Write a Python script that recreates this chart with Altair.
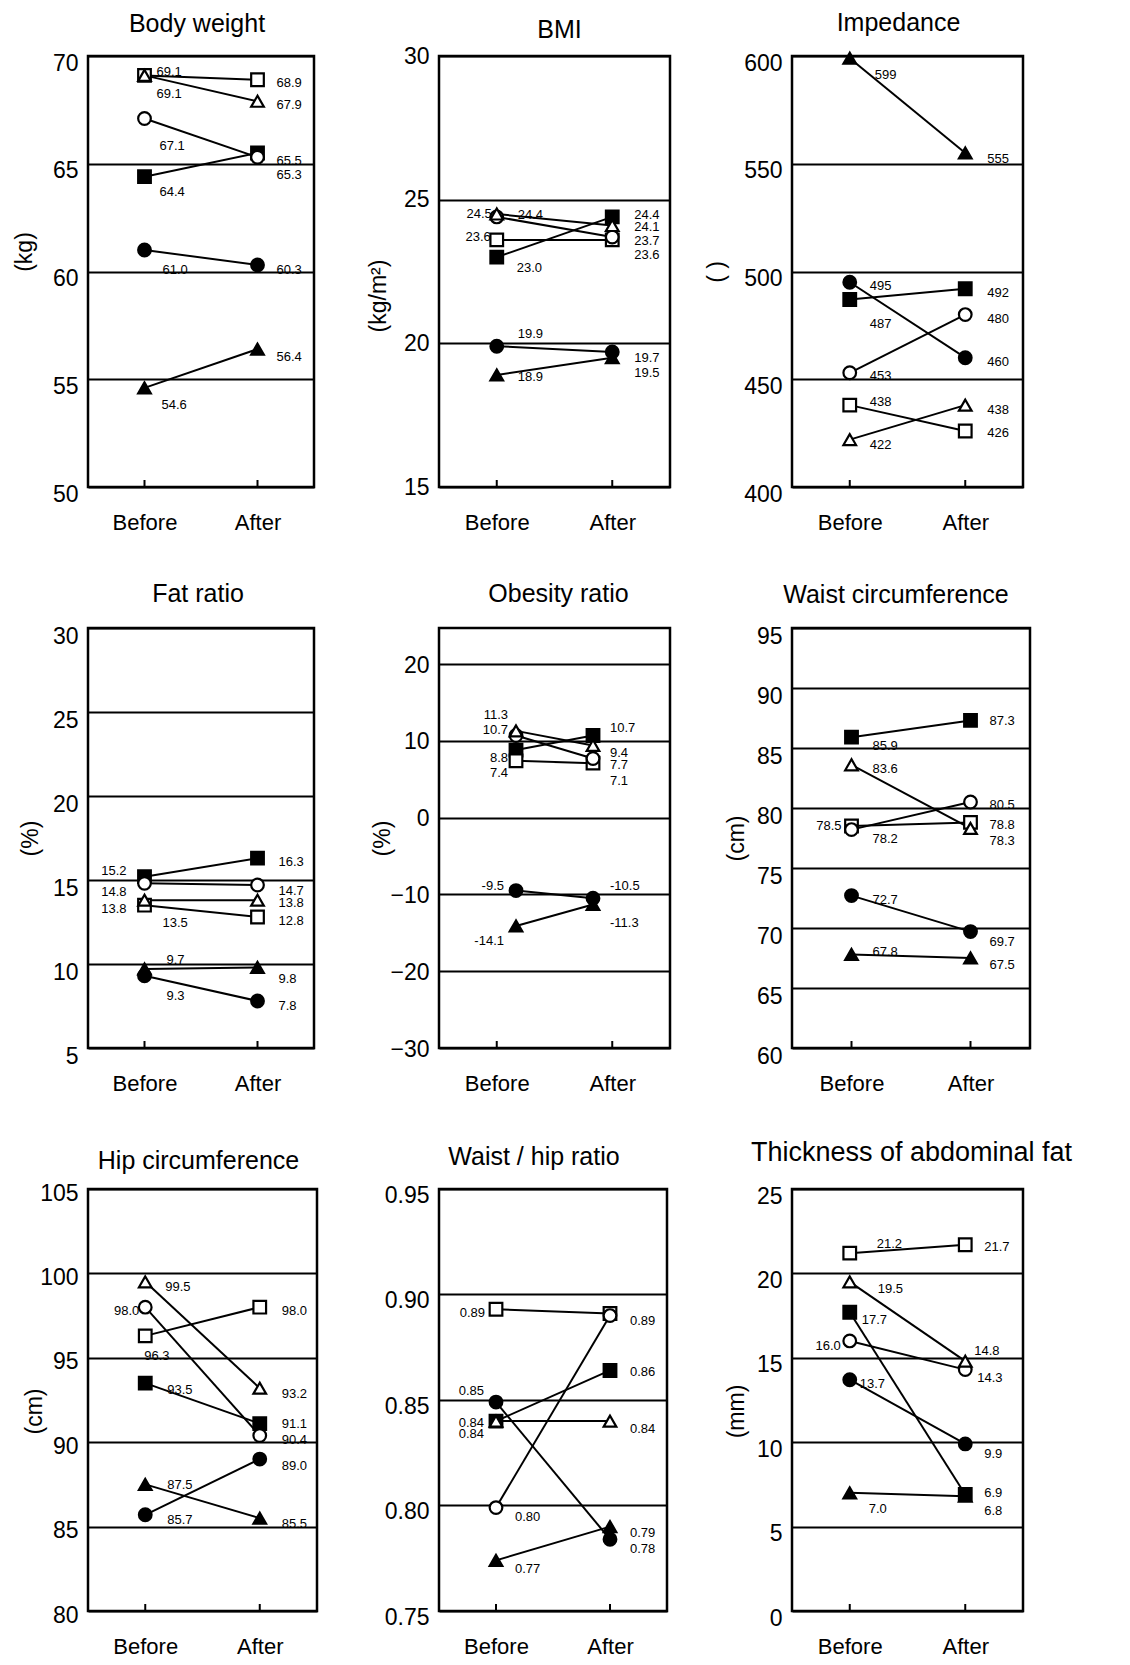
import altair as alt
import pandas as pd

FONT = "Liberation Sans"

PHASES = ["Before", "After"]
# A: filled square, B: open square, C: filled circle, D: open circle, E: filled triangle, F: open triangle
SUBJECTS = ["A", "B", "C", "D", "E", "F"]
SHAPES = ["square", "square", "circle", "circle", "triangle-up", "triangle-up"]
FILLS = ["black", "white", "black", "white", "black", "white"]
MARK_SIZES = [160, 160, 170, 170, 215, 215]

TITLES = ["Body weight", "BMI", "Impedance", "Fat ratio", "Obesity ratio",
          "Waist circumference", "Hip circumference", "Waist / hip ratio",
          "Thickness of abdominal fat"]
UNITS = ["(kg)", "(kg/m²)", "(   )", "(%)", "(%)", "(cm)", "(cm)", "", "(mm)"]

BODY_WEIGHT_BEFORE = [64.4, 69.1, 61.0, 67.1, 54.6, 69.1]
BODY_WEIGHT_AFTER = [65.5, 68.9, 60.3, 65.3, 56.4, 67.9]
BMI_BEFORE = [23.0, 23.6, 19.9, 24.4, 18.9, 24.5]
BMI_AFTER = [24.4, 23.6, 19.7, 23.7, 19.5, 24.1]
IMPEDANCE_BEFORE = [487, 438, 495, 453, 599, 422]
IMPEDANCE_AFTER = [492, 426, 460, 480, 555, 438]
FAT_RATIO_BEFORE = [15.2, 13.5, 9.3, 14.8, 9.7, 13.8]
FAT_RATIO_AFTER = [16.3, 12.8, 7.8, 14.7, 9.8, 13.8]
OBESITY_BEFORE = [8.8, 7.4, -9.5, 10.7, -14.1, 11.3]
OBESITY_AFTER = [10.7, 7.1, -10.5, 7.7, -11.3, 9.4]
WAIST_BEFORE = [85.9, 78.5, 72.7, 78.2, 67.8, 83.6]
WAIST_AFTER = [87.3, 78.8, 69.7, 80.5, 67.5, 78.3]
HIP_BEFORE = [93.5, 96.3, 85.7, 98.0, 87.5, 99.5]
HIP_AFTER = [91.1, 98.0, 89.0, 90.4, 85.5, 93.2]
WHR_BEFORE = [0.840, 0.893, 0.849, 0.799, 0.774, 0.840]
WHR_AFTER = [0.864, 0.891, 0.784, 0.890, 0.790, 0.840]
ABD_FAT_BEFORE = [17.7, 21.2, 13.7, 16.0, 7.0, 19.5]
ABD_FAT_AFTER = [6.9, 21.7, 9.9, 14.3, 6.8, 14.8]

SERIES = [
    (BODY_WEIGHT_BEFORE, BODY_WEIGHT_AFTER),
    (BMI_BEFORE, BMI_AFTER),
    (IMPEDANCE_BEFORE, IMPEDANCE_AFTER),
    (FAT_RATIO_BEFORE, FAT_RATIO_AFTER),
    (OBESITY_BEFORE, OBESITY_AFTER),
    (WAIST_BEFORE, WAIST_AFTER),
    (HIP_BEFORE, HIP_AFTER),
    (WHR_BEFORE, WHR_AFTER),
    (ABD_FAT_BEFORE, ABD_FAT_AFTER),
]

Y_DOMAINS = [[50, 70], [15, 30], [400, 600], [5, 30], [-30, 24.7],
             [60, 95], [80, 105], [0.75, 0.95], [0, 25]]
Y_TICKS = [
    [50, 55, 60, 65, 70],
    [15, 20, 25, 30],
    [400, 450, 500, 550, 600],
    [5, 10, 15, 20, 25, 30],
    [-30, -20, -10, 0, 10, 20],
    [60, 65, 70, 75, 80, 85, 90, 95],
    [80, 85, 90, 95, 100, 105],
    [0.75, 0.80, 0.85, 0.90, 0.95],
    [0, 5, 10, 15, 20, 25],
]
AXIS_FMT = ["d", "d", "d", "d", "d", "d", "d", ".2f", "d"]
LABEL_FMT = [".1f", ".1f", "d", ".1f", ".1f", ".1f", ".1f", ".2f", ".1f"]

# ---- layout (sizes, pixel offsets of labels and titles) ----
PANEL_W = [226, 231, 231, 226, 231, 238, 229, 228, 231]
ROW_H = [431, 420, 422]
ROW_FACTOR = [1.052, 1.033, 1.081]
DATA_PAD = [0.5, 0.5, 0.5, 0.5, 1.0, 0.5, 0.5, 0.5, 0.5]
Y_LABEL_OFFSET = [7, 0, 7, 8, 1, 8, 4, 6, 7]
UNIT_X = [-52, -49, -64, -46, -45, -44, -42, -45, -44]
UNIT_Y_SHIFT = [-20, 24, 0, 0, 0, 0, 11, 0, 11]
TITLE_DX = [-4, 5, -9, -3, 4, -15, -4, -19, 4]
TITLE_OFFSET = [15, 2, 12, 18, 21, 17, 8, 14, 18]
TITLE_SIZE = [25, 25, 25, 25, 25, 25, 25, 25, 27]

L, R = "left", "right"
LABEL_POS = [
    ([(15, 15, L), (12, -3, L), (18, 19, L), (15, 26, L), (17, 16, L), (12, 18, L)],
     [(19, 8, L), (19, 3, L), (19, 5, L), (19, 17, L), (19, 8, L), (19, 4, L)]),
    ([(20, 10, L), (-6, -3, R), (21, -12, L), (21, -2, L), (21, 2, L), (-5, 0, R)],
     [(22, -2, L), (22, 14, L), (22, 6, L), (22, 4, L), (22, 15, L), (22, 1, L)]),
    ([(20, 23, L), (20, -3, L), (20, 4, L), (20, 3, L), (25, 16, L), (20, 5, L)],
     [(22, 4, L), (22, 2, L), (22, 4, L), (22, 4, L), (22, 6, L), (22, 5, L)]),
    ([(-18, -5, R), (18, 17, L), (22, 20, L), (-18, 8, R), (22, -9, L), (-18, 9, R)],
     [(21, 4, L), (21, 4, L), (21, 5, L), (21, 6, L), (21, 11, L), (21, 3, L)]),
    ([(-8, 8, R), (-8, 12, R), (-12, -4, R), (-8, -5, R), (-12, 15, R), (-8, -15, R)],
     [(17, -7, L), (17, 17, L), (17, -12, L), (17, 6, L), (17, 18, L), (17, 7, L)]),
    ([(21, 9, L), (-10, 0, R), (21, 4, L), (21, 9, L), (21, -2, L), (21, 4, L)],
     [(19, 1, L), (19, 3, L), (19, 10, L), (19, 3, L), (19, 7, L), (19, 12, L)]),
    ([(22, 6, L), (-1, 19, L), (22, 5, L), (-6, 4, R), (22, 1, L), (20, 5, L)],
     [(22, 0, L), (22, 4, L), (22, 6, L), (22, 4, L), (22, 5, L), (22, 5, L)]),
    ([(-12, 2, R), (-11, 3, R), (-12, -10, R), (19, 9, L), (19, 8, L), (-12, 12, R)],
     [(20, 1, L), (20, 7, L), (20, 9, L), None, (20, 6, L), (20, 7, L)]),
    ([(12, 7, L), (27, -8, L), (10, 4, L), (-9, 5, R), (19, 15, L), (28, 7, L)],
     [(19, -1, L), (19, 2, L), (19, 9, L), (12, 8, L), (19, 14, L), (9, -9, L)]),
]


def make_panel(i):
    W, H = PANEL_W[i], ROW_H[i // 3]
    k = ROW_FACTOR[i // 3]
    before, after = SERIES[i]
    pos_b, pos_a = LABEL_POS[i]
    rows = []
    for phase, vals, pos in (("Before", before, pos_b), ("After", after, pos_a)):
        for s, v, p in zip(SUBJECTS, vals, pos):
            row = {"subject": s, "phase": phase, "value": v,
                   "label": format(v, LABEL_FMT[i]), "dx": 0.0, "dy": 0.0, "align": "none"}
            if p is not None:
                row.update(dx=p[0], dy=p[1] * k, align=p[2])
            rows.append(row)
    df = pd.DataFrame(rows)

    lo, hi = Y_DOMAINS[i]
    units_per_px = (hi - lo) / H

    xscale = alt.Scale(type="point", domain=PHASES, padding=DATA_PAD[i])
    x = alt.X("phase:N", sort=PHASES, scale=xscale, axis=None)
    yscale = alt.Scale(domain=Y_DOMAINS[i], nice=False, zero=False)
    yaxis = alt.Axis(values=Y_TICKS[i], format=AXIS_FMT[i], grid=True,
                     gridColor="black", gridWidth=2, gridOpacity=1,
                     domain=False, ticks=False, labelFont=FONT, labelFontSize=23,
                     labelColor="black", labelPadding=10,
                     labelOffset=Y_LABEL_OFFSET[i], title=UNITS[i],
                     titleFont=FONT, titleFontSize=23, titleFontWeight="normal",
                     titleColor="black", titleX=UNIT_X[i],
                     titleY=H / 2 + UNIT_Y_SHIFT[i])
    y = alt.Y("value:Q", scale=yscale, axis=yaxis)

    base = alt.Chart(df)
    lines = base.mark_line(color="black", strokeWidth=2).encode(
        x=x, y=y, detail="subject:N")
    pts = base.mark_point(filled=True, stroke="black", strokeWidth=2.2,
                          opacity=1).encode(
        x=x, y=y,
        shape=alt.Shape("subject:N", scale=alt.Scale(domain=SUBJECTS, range=SHAPES), legend=None),
        fill=alt.Fill("subject:N", scale=alt.Scale(domain=SUBJECTS, range=FILLS), legend=None),
        size=alt.Size("subject:N", scale=alt.Scale(domain=SUBJECTS, range=MARK_SIZES), legend=None),
    )
    labels = []
    for al in (L, R):
        labels.append(
            base.transform_filter(alt.datum.align == al)
            .transform_calculate(ly=f"datum.value - datum.dy * {units_per_px}")
            .mark_text(align=al, baseline="middle", font=FONT, fontSize=13, color="black")
            .encode(
                x=x, y=alt.Y("ly:Q", scale=yscale, axis=yaxis), text="label:N",
                xOffset=alt.XOffset("dx:Q", scale=None),
            )
        )
    tick_df = pd.DataFrame({"phase": PHASES})
    ticks = alt.Chart(tick_df).mark_rule(color="black", strokeWidth=2).encode(
        x=alt.X("phase:N", sort=PHASES,
                scale=alt.Scale(type="point", domain=PHASES, padding=0.5),
                axis=alt.Axis(title="", domain=False, ticks=False, labelFont=FONT,
                              labelFontSize=22, labelColor="black", labelPadding=25,
                              labelAngle=0)),
        y=alt.value(H - 7), y2=alt.value(H),
    )
    return alt.layer(lines, pts, *labels, ticks).resolve_scale(x="independent").properties(
        width=W, height=H,
        title=alt.TitleParams(TITLES[i], font=FONT, fontSize=TITLE_SIZE[i],
                              fontWeight="normal", color="black", anchor="middle",
                              frame="group", offset=TITLE_OFFSET[i], dx=TITLE_DX[i]),
    )


chart = alt.concat(*[make_panel(i) for i in range(9)], columns=3, align="each",
                   spacing={"row": 141, "column": 122}, bounds="flush").properties(
    padding={"left": 3, "top": 2, "right": 5, "bottom": 5}
).configure_view(stroke="black", strokeWidth=2.5)

chart.save("out.html", embed_options={"renderer": "svg", "actions": False})
